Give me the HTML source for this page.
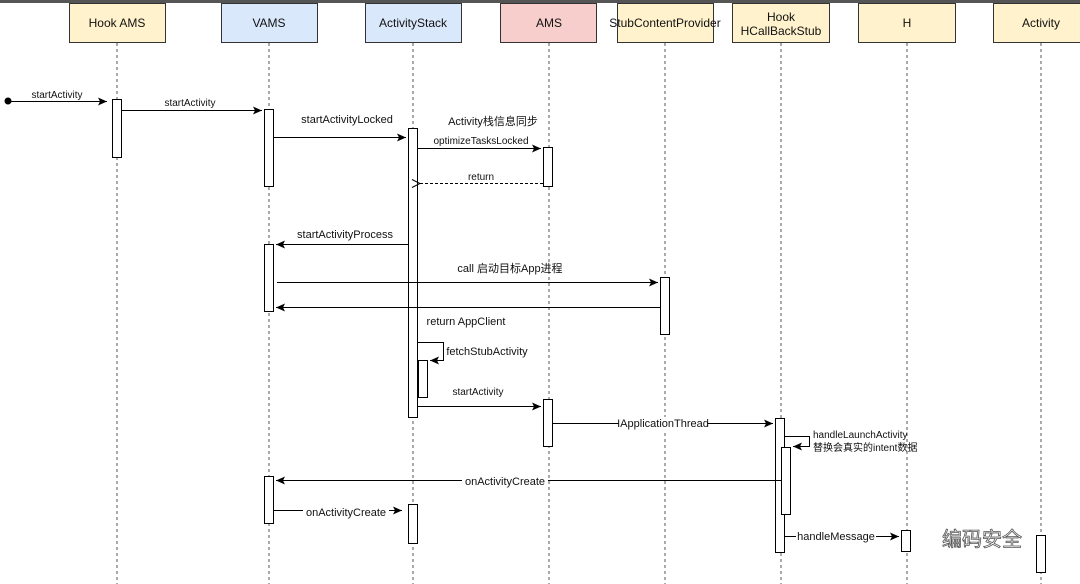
<!DOCTYPE html>
<html><head><meta charset="utf-8"><style>
html,body{margin:0;padding:0;background:#fff;}
svg{display:block;}
text{font-family:"Liberation Sans","Noto Sans CJK SC",sans-serif;font-size:11px;fill:#111;}
</style></head><body>
<svg width="1080" height="584" viewBox="0 0 1080 584" xmlns="http://www.w3.org/2000/svg">
<defs>
<marker id="a" markerWidth="10" markerHeight="10" refX="9" refY="5" orient="auto" markerUnits="userSpaceOnUse"><path d="M0,1 L9,5 L0,9 L2,5 Z" fill="#000"/></marker>
<marker id="o" markerWidth="10" markerHeight="10" refX="1" refY="5" orient="auto" markerUnits="userSpaceOnUse"><path d="M9,1 L1,5 L9,9" fill="none" stroke="#000"/></marker>
</defs>
<rect x="0" y="0" width="1080" height="3" fill="#555"/>
<g stroke="#555" stroke-width="1" stroke-dasharray="3,3">
<line x1="117" y1="43" x2="117" y2="584"/><line x1="269" y1="43" x2="269" y2="584"/>
<line x1="413" y1="43" x2="413" y2="584"/><line x1="549" y1="43" x2="549" y2="584"/>
<line x1="665" y1="43" x2="665" y2="584"/><line x1="781" y1="43" x2="781" y2="584"/>
<line x1="907" y1="43" x2="907" y2="584"/><line x1="1041" y1="43" x2="1041" y2="584"/>
</g>
<g stroke="#333" stroke-width="1">
<rect x="69.5" y="3.5" width="96" height="39" fill="#fff2cc"/>
<rect x="221.5" y="3.5" width="96" height="39" fill="#dae8fc"/>
<rect x="365.5" y="3.5" width="96" height="39" fill="#dae8fc"/>
<rect x="500.5" y="3.5" width="96" height="39" fill="#f8cecc"/>
<rect x="617.5" y="3.5" width="96" height="39" fill="#fff2cc"/>
<rect x="732.5" y="3.5" width="97" height="39" fill="#fff2cc"/>
<rect x="858.5" y="3.5" width="97" height="39" fill="#fff2cc"/>
<rect x="993.5" y="3.5" width="96" height="39" fill="#fff2cc"/>
</g>
<g text-anchor="middle" font-size="12">
<text x="117" y="27" style="font-size:12px">Hook AMS</text>
<text x="269" y="27" style="font-size:12px">VAMS</text>
<text x="413" y="27" style="font-size:12px">ActivityStack</text>
<text x="549" y="27" style="font-size:12px">AMS</text>
<text x="665" y="27" style="font-size:12px">StubContentProvider</text>
<text x="781" y="21" style="font-size:12px">Hook</text>
<text x="781" y="35" style="font-size:12px">HCallBackStub</text>
<text x="907" y="27" style="font-size:12px">H</text>
<text x="1041" y="27" style="font-size:12px">Activity</text>
</g>
<g stroke="#000" fill="#fff">
<rect x="112.5" y="99.5" width="9" height="58"/>
<rect x="264.5" y="109.5" width="9" height="77"/>
<rect x="408.5" y="128.5" width="9" height="289"/>
<rect x="543.5" y="147.5" width="9" height="39"/>
<rect x="264.5" y="244.5" width="9" height="67"/>
<rect x="660.5" y="277.5" width="9" height="57"/>
<rect x="418.5" y="360.5" width="9" height="37"/>
<rect x="543.5" y="399.5" width="9" height="47"/>
<rect x="775.5" y="418.5" width="9" height="134"/>
<rect x="781.5" y="447.5" width="9" height="67"/>
<rect x="264.5" y="476.5" width="9" height="47"/>
<rect x="408.5" y="504.5" width="9" height="39"/>
<rect x="901.5" y="530.5" width="9" height="21"/>
<rect x="1036.5" y="535.5" width="9" height="37"/>
</g>
<g stroke="#000" fill="none" stroke-width="1">
<circle cx="8" cy="101" r="3" fill="#000"/>
<line x1="8" y1="101.5" x2="107" y2="101.5" marker-end="url(#a)"/>
<line x1="122" y1="110.5" x2="262" y2="110.5" marker-end="url(#a)"/>
<line x1="274" y1="137.5" x2="406" y2="137.5" marker-end="url(#a)"/>
<line x1="418" y1="148.5" x2="541" y2="148.5" marker-end="url(#a)"/>
<line x1="543" y1="183.5" x2="420" y2="183.5" stroke-dasharray="3,2" marker-end="url(#o)"/>
<line x1="408" y1="244.5" x2="276" y2="244.5" marker-end="url(#a)"/>
<line x1="277" y1="282.5" x2="658" y2="282.5" marker-end="url(#a)"/>
<line x1="660" y1="307.5" x2="276" y2="307.5" marker-end="url(#a)"/>
<polyline points="418,342.5 443.5,342.5 443.5,360.5 430,360.5" marker-end="url(#a)"/>
<line x1="418" y1="406.5" x2="541" y2="406.5" marker-end="url(#a)"/>
<line x1="553" y1="423.5" x2="773" y2="423.5" marker-end="url(#a)"/>
<polyline points="785,436.5 809.5,436.5 809.5,446.5 793,446.5" marker-end="url(#a)"/>
<line x1="781" y1="480.5" x2="276" y2="480.5" marker-end="url(#a)"/>
<line x1="274" y1="510.5" x2="402" y2="510.5" marker-end="url(#a)"/>
<line x1="785" y1="536.5" x2="899" y2="536.5" marker-end="url(#a)"/>
</g>
<g text-anchor="middle">
<text x="57" y="98" style="font-size:10px">startActivity</text>
<text x="190" y="106" style="font-size:10px">startActivity</text>
<text x="347" y="123">startActivityLocked</text>
<text x="493" y="125">Activity栈信息同步</text>
<text x="481" y="144" style="font-size:10px">optimizeTasksLocked</text>
<text x="481" y="180" style="font-size:10px">return</text>
<text x="345" y="238">startActivityProcess</text>
<text x="510" y="272">call 启动目标App进程</text>
<text x="466" y="325">return AppClient</text>
<text x="487" y="355">fetchStubActivity</text>
<text x="478" y="395" style="font-size:10px">startActivity</text>
<rect x="619" y="417" width="88" height="13" fill="#fff"/>
<text x="663" y="427">IApplicationThread</text>
<rect x="462" y="474" width="86" height="13" fill="#fff"/>
<text x="505" y="485">onActivityCreate</text>
<rect x="303" y="504" width="86" height="13" fill="#fff"/>
<text x="346" y="516">onActivityCreate</text>
<rect x="796" y="530" width="80" height="13" fill="#fff"/>
<text x="836" y="540">handleMessage</text>
</g>
<text x="813" y="438" style="font-size:10px">handleLaunchActivity</text>
<text x="813" y="451" style="font-size:10px">替换会真实的intent数据</text>
<text x="942" y="546" style="font-size:20px;fill:#fff;stroke:#555;stroke-width:0.8">编码安全</text>
</svg>
</body></html>
